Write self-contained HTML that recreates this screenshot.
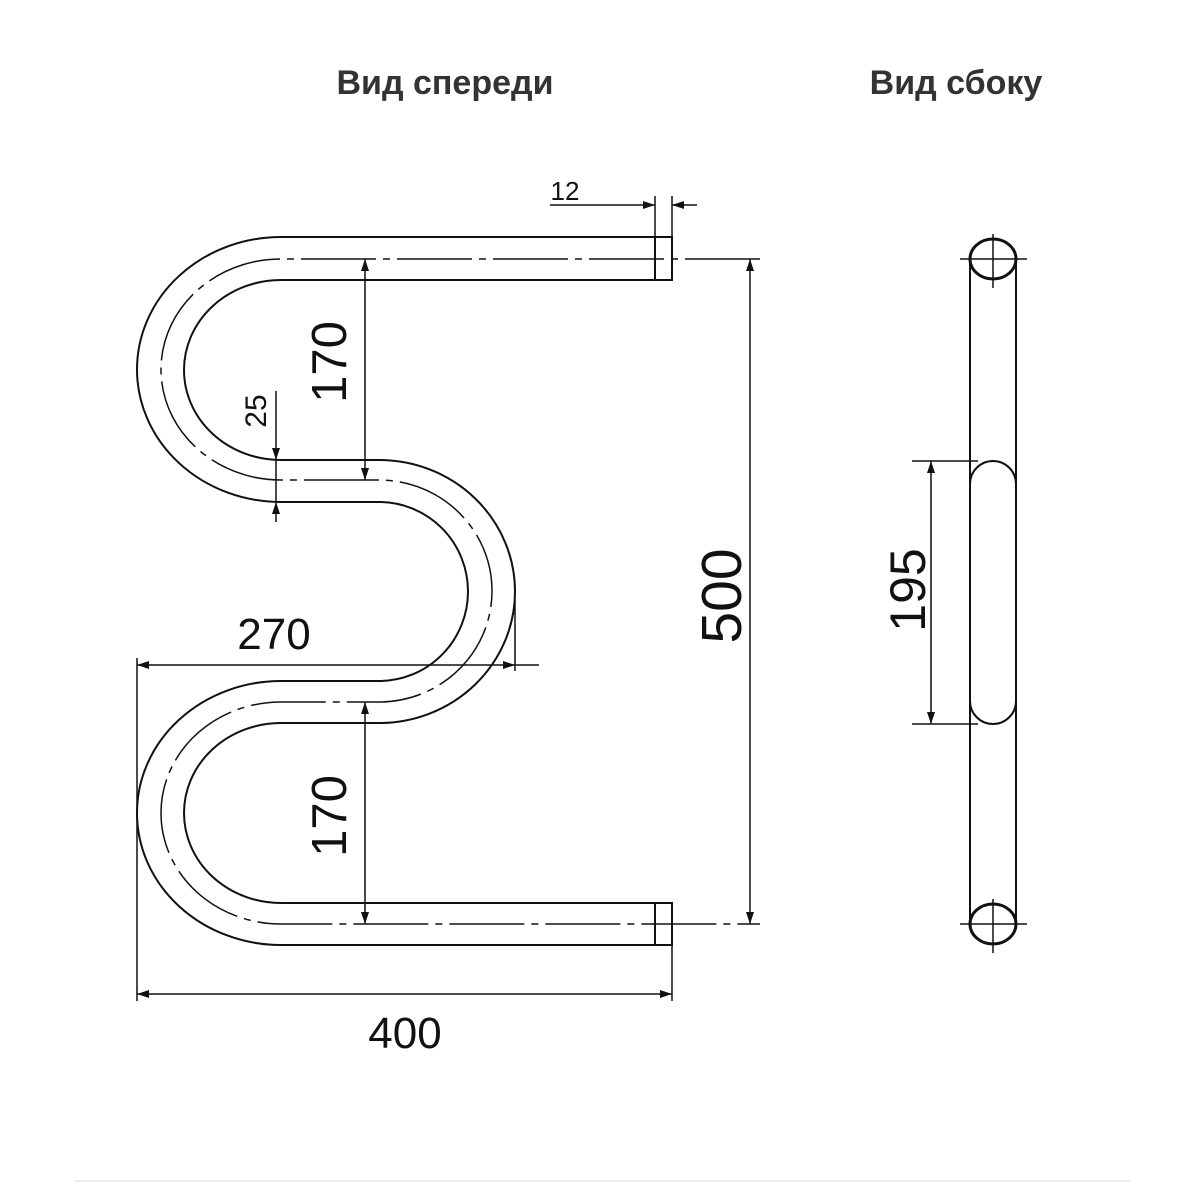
<!DOCTYPE html>
<html><head><meta charset="utf-8"><style>
html,body{margin:0;padding:0;background:#fff}
svg{display:block}
text{font-family:"Liberation Sans","DejaVu Sans",sans-serif;fill:#111}
</style></head><body>
<svg width="1200" height="1184" viewBox="0 0 1200 1184" xmlns="http://www.w3.org/2000/svg">
<defs>
<marker id="a" viewBox="0 0 12 8" refX="12" refY="4" markerWidth="12" markerHeight="8" markerUnits="userSpaceOnUse" orient="auto-start-reverse"><path d="M0,0 L12,4 L0,8 Z" fill="#111"/></marker>
</defs>
<text x="445" y="94" font-size="34" font-weight="bold" text-anchor="middle" style="fill:#333">Вид спереди</text>
<text x="956" y="94" font-size="34" font-weight="bold" text-anchor="middle" style="fill:#333">Вид сбоку</text>

<g fill="none" stroke="#111" stroke-width="2">
<path d="M655,237 L281,237 A144,132.5 0 0 0 281,502 L379,502 A89,89.5 0 0 1 379,681 L281,681 A144,132 0 0 0 281,945 L655,945"/>
<path d="M655,280 L281,280 A97,90 0 0 0 281,460 L379,460 A136,131.5 0 0 1 379,723 L281,723 A97,90 0 0 0 281,903 L655,903"/>
<rect x="655" y="237" width="17" height="43"/>
<rect x="655" y="903" width="17" height="42"/>
</g>
<path d="M760,259 L281,259 A120,110.5 0 0 0 281,480 L379,480 A113,111 0 0 1 379,702 L281,702 A120,111 0 0 0 281,924 L760,924" fill="none" stroke="#111" stroke-width="1.5" stroke-dasharray="75 7 7 7"/>

<g fill="none" stroke="#111" stroke-width="1.5">
<line x1="655" y1="196" x2="655" y2="237"/><line x1="672" y1="196" x2="672" y2="237"/>
<line x1="550" y1="205" x2="655" y2="205" marker-end="url(#a)"/>
<line x1="697" y1="205" x2="672" y2="205" marker-end="url(#a)"/>
<line x1="750" y1="259" x2="750" y2="924" marker-start="url(#a)" marker-end="url(#a)"/>
<line x1="365" y1="259" x2="365" y2="480" marker-start="url(#a)" marker-end="url(#a)"/>
<line x1="365" y1="702" x2="365" y2="924" marker-start="url(#a)" marker-end="url(#a)"/>
<line x1="276" y1="391" x2="276" y2="460" marker-end="url(#a)"/>
<line x1="276" y1="522" x2="276" y2="502" marker-end="url(#a)"/>
<line x1="276" y1="460" x2="276" y2="502"/>
<line x1="137" y1="665" x2="515" y2="665" marker-start="url(#a)" marker-end="url(#a)"/>
<line x1="515" y1="665" x2="539" y2="665"/>
<line x1="515" y1="600" x2="515" y2="671"/>
<line x1="137" y1="658" x2="137" y2="1001"/>
<line x1="672" y1="945" x2="672" y2="1001"/>
<line x1="137" y1="994" x2="672" y2="994" marker-start="url(#a)" marker-end="url(#a)"/>
</g>

<text font-size="49" text-anchor="middle" transform="translate(346,362) rotate(-90)">170</text>
<text font-size="49" text-anchor="middle" transform="translate(346,816) rotate(-90)">170</text>
<text font-size="30" text-anchor="middle" transform="translate(266,411) rotate(-90)">25</text>
<text font-size="57" text-anchor="middle" transform="translate(741,596) rotate(-90)">500</text>
<text x="274" y="649" font-size="44" text-anchor="middle">270</text>
<text x="405" y="1048" font-size="44" text-anchor="middle">400</text>
<text x="565" y="200" font-size="26" text-anchor="middle">12</text>

<g fill="none" stroke="#111" stroke-width="2">
<line x1="970" y1="259" x2="970" y2="924"/>
<line x1="1016" y1="259" x2="1016" y2="924"/>
<rect x="970" y="461" width="46" height="263" rx="23" ry="23" fill="#fff"/>
<ellipse cx="993" cy="259" rx="23" ry="20" stroke-width="3" fill="#fff"/>
<ellipse cx="993" cy="924" rx="23" ry="20" stroke-width="3" fill="#fff"/>
</g>
<g stroke="#111" stroke-width="1.5" fill="none">
<line x1="960" y1="259" x2="1027" y2="259"/><line x1="993" y1="234" x2="993" y2="288"/>
<line x1="960" y1="924" x2="1027" y2="924"/><line x1="993" y1="899" x2="993" y2="953"/>
<line x1="912" y1="461" x2="978" y2="461"/><line x1="912" y1="724" x2="978" y2="724"/>
<line x1="931" y1="461" x2="931" y2="724" marker-start="url(#a)" marker-end="url(#a)"/>
</g>
<text font-size="50" text-anchor="middle" transform="translate(925,590) rotate(-90)">195</text>

<line x1="75" y1="1181" x2="1130" y2="1181" stroke="#e6e6e6" stroke-width="1.5"/>
</svg>
</body></html>
